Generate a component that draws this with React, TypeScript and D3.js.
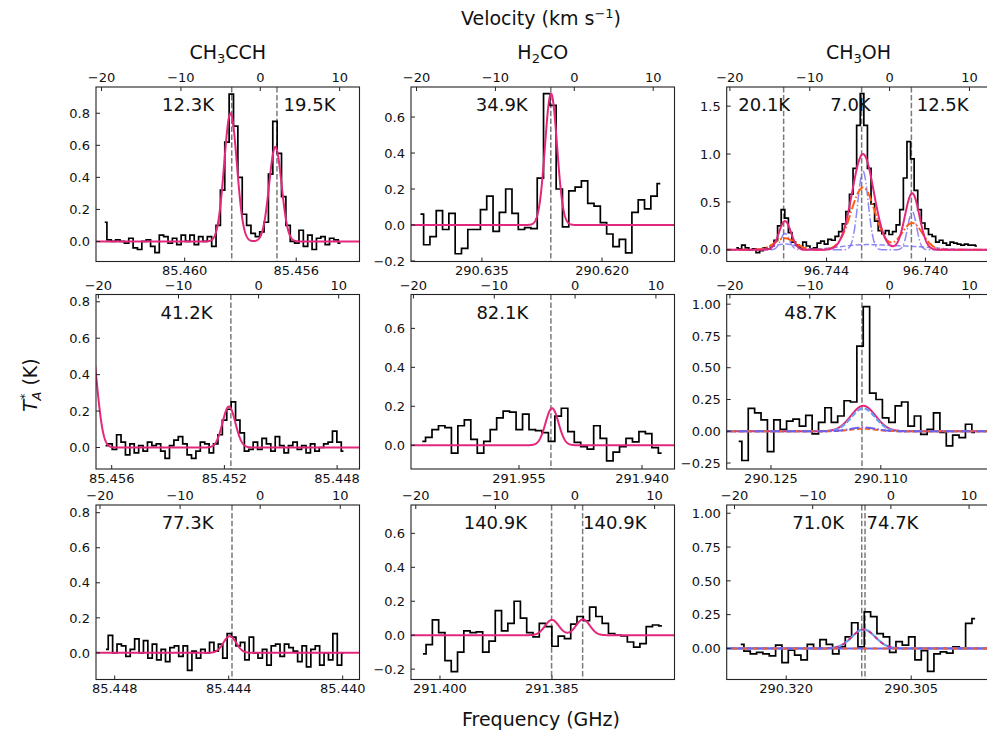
import React from "react";
import * as d3 from "d3";

// ---------------- DATA ----------------
// Observed spectra (T_A*, K) per channel; grids are [first channel velocity, channel width] in km/s
const ch3cchRow1 = [0.12,0.01,0.00,0.01,0.00,-0.01,0.02,-0.04,-0.05,0.00,0.01,-0.03,-0.07,0.04,0.03,-0.01,0.02,-0.02,0.04,0.00,0.04,-0.02,0.03,0.00,0.03,-0.03,0.10,0.32,0.62,0.92,0.72,0.40,0.17,0.10,0.05,0.03,0.06,0.12,0.42,0.75,0.55,0.28,0.10,0.00,-0.01,0.07,-0.03,0.04,-0.05,0.02,0.03,-0.02,0.02,0.01,-0.01];
const ch3cchRow1Grid = [-19.6, 0.55];
const ch3cchRow2 = [0.01,0.02,-0.01,0.07,0.03,-0.04,0.02,-0.03,0.01,-0.02,0.03,0.01,0.02,-0.02,-0.06,0.01,0.04,0.06,0.02,-0.04,-0.06,-0.02,0.03,0.02,-0.03,0.02,0.07,0.15,0.21,0.25,0.15,0.08,-0.02,-0.01,0.03,-0.01,0.05,0.02,-0.02,0.06,0.01,-0.03,0.01,0.03,-0.01,0.01,-0.03,0.02,-0.02,0.00,0.02,0.03,0.09,0.03,-0.02];
const ch3cchRow2Grid = [-19.1, 0.55];
const ch3cchRow3 = [0.02,0.10,0.00,0.05,0.04,-0.02,0.02,0.08,0.00,0.07,-0.03,0.05,-0.04,0.02,-0.05,0.03,0.04,-0.02,0.04,-0.10,0.01,-0.03,0.02,0.00,0.06,0.01,0.05,-0.03,0.11,0.09,0.04,0.06,-0.04,0.09,0.00,-0.03,0.02,-0.07,0.04,0.05,-0.02,0.05,0.03,0.01,-0.05,0.04,-0.08,0.02,0.04,-0.07,0.00,-0.04,0.11,-0.07,0.00];
const ch3cchRow3Grid = [-19.25, 0.55];

const h2coRow1 = [0.06,-0.11,-0.065,0.08,-0.025,0.065,-0.16,-0.13,-0.025,-0.025,0.085,0.16,-0.035,0.07,0.20,0.065,-0.025,-0.015,-0.02,0.26,0.73,0.665,0.20,-0.01,0.19,0.21,0.245,0.12,0.105,0.013,-0.05,-0.12,-0.08,-0.155,0.07,0.14,0.09,0.16,0.23];
const h2coRow1Grid = [-19.5, 0.8];
const h2coRow2 = [0.02,0.04,0.08,0.10,0.09,-0.04,0.10,0.13,0.03,-0.04,0.02,0.08,0.14,0.175,0.17,0.08,0.16,0.08,0.075,0.065,0.02,0.15,0.19,0.07,0.015,-0.007,-0.02,0.10,0.035,-0.08,-0.035,-0.007,0.035,0.017,0.07,0.06,-0.012,-0.04];
const h2coRow2Grid = [-18.9, 0.8];
const h2coRow3 = [-0.11,-0.055,0.09,0.015,-0.15,-0.215,-0.10,0.025,0.015,0.02,-0.10,-0.035,0.145,0.025,0.07,0.20,0.10,0.015,-0.01,0.07,0.05,-0.065,-0.005,-0.02,0.065,0.11,0.085,0.165,0.11,0.07,0.01,0.0,-0.004,-0.04,-0.07,-0.05,0.05,0.06,0.055];
const h2coRow3Grid = [-19.1, 0.79];

const ch3ohRow1 = [0.02,0.01,0.05,0.02,0.00,0.01,-0.03,-0.01,0.02,0.01,0.04,0.10,0.25,0.42,0.33,0.18,0.08,0.05,0.02,0.08,0.04,0.01,0.02,0.07,0.09,0.06,0.11,0.10,0.14,0.19,0.27,0.40,0.58,0.85,1.30,1.63,1.30,0.85,0.48,0.30,0.20,0.17,0.20,0.16,0.19,0.26,0.42,0.75,1.13,0.95,0.62,0.42,0.28,0.22,0.16,0.14,0.08,0.10,0.07,0.05,0.08,0.07,0.06,0.05,0.06,0.05,0.05,0.04];
const ch3ohRow1Grid = [-19.2, 0.45];
const ch3ohRow2 = [-0.08,-0.23,0.18,0.145,0.09,-0.16,0.09,0.015,0.08,0.095,0.04,0.125,-0.02,0.07,0.185,0.07,0.12,0.24,0.23,0.67,0.98,0.30,0.25,0.105,0.07,0.20,0.23,0.04,0.12,-0.025,0.015,0.145,-0.01,-0.115,-0.03,-0.05,0.055,-0.01];
const ch3ohRow2Grid = [-18.9, 0.8];
const ch3ohRow3 = [0.03,-0.02,-0.04,-0.03,-0.04,-0.055,0.025,-0.105,-0.012,-0.05,-0.085,0.03,0.0,0.065,0.03,-0.04,0.012,0.085,0.19,0.012,0.27,0.235,0.11,0.085,-0.03,0.05,0.025,0.085,-0.085,-0.017,-0.17,-0.04,-0.025,-0.035,0.012,0.0,0.185,0.22];
const ch3ohRow3Grid = [-19.2, 0.81];

// Fitted line components: [centre velocity, peak T_A*, sigma] (km/s, K, km/s)
const ch3cchRow1Fit = [[-3.75, 0.80, 0.8], [1.9, 0.59, 0.78]];
const ch3cchRow2Fit = [[-21.0, 0.59, 0.8], [-3.7, 0.225, 0.8]];
const ch3cchRow3Fit = [[-3.8, 0.095, 0.8]];
const h2coRow1Fit = [[-2.95, 0.73, 0.76]];
const h2coRow2Fit = [[-2.85, 0.19, 0.8]];
const h2coRow3Fit = [[-2.9, 0.09, 0.87], [1.0, 0.093, 0.87]];
const ch3ohRow1Total = [[-13.1, 0.30, 0.75], [-3.33, 1.0, 1.35], [2.83, 0.59, 0.9]];
const ch3ohRow1Broad = [[-13.1, 0.12, 1.3], [-3.33, 0.65, 1.5], [2.83, 0.28, 1.3]];
const ch3ohRow1Narrow = [[-13.1, 0.17, 0.55], [-3.33, 0.82, 0.65], [2.83, 0.40, 0.55]];
const ch3ohRow1Wide = [[-13.1, 0.06, 1.5], [-3.33, 0.05, 3.0], [2.83, 0.03, 3.0]];
const ch3ohRow2Total = [[-3.3, 0.20, 1.55]];
const ch3ohRow2Comp = [[-3.3, 0.18, 1.5]];
const ch3ohRow2Weak = [[-3.3, 0.03, 1.6]];
const ch3ohRow2Broad = [[-3.3, 0.02, 1.6]];
const ch3ohRow3Total = [[-3.5, 0.14, 1.5]];
const ch3ohRow3Comp = [[-3.5, 0.14, 1.5]];
const ch3ohRow3Weak = [[-3.5, 0.0, 1.5]];
const ch3ohRow3Broad = [[-3.5, 0.0, 1.5]];

// Marked line velocities (km/s) and excitation-temperature labels
const ch3cchRow1Lines = [-3.6, 2.1];
const ch3cchRow2Lines = [-3.46];
const ch3cchRow3Lines = [-3.52];
const h2coRow1Lines = [-2.98];
const h2coRow2Lines = [-2.99];
const h2coRow3Lines = [-2.94, 0.96];
const ch3ohRow1Lines = [-13.27, -3.5, 2.73];
const ch3ohRow2Lines = [-3.46];
const ch3ohRow3Lines = [-3.73, -3.31];

const ch3cchRow1Labels = ["12.3K", "19.5K"];
const ch3cchRow2Labels = ["41.2K"];
const ch3cchRow3Labels = ["77.3K"];
const h2coRow1Labels = ["34.9K"];
const h2coRow2Labels = ["82.1K"];
const h2coRow3Labels = ["140.9K", "140.9K"];
const ch3ohRow1Labels = ["20.1K", "7.0K", "12.5K"];
const ch3ohRow2Labels = ["48.7K"];
const ch3ohRow3Labels = ["71.0K", "74.7K"];

// Tick values
const velocityTicks = [-20, -10, 0, 10];
const ch3cchRow1FreqTicks = [85.460, 85.456];
const ch3cchRow2FreqTicks = [85.456, 85.452, 85.448];
const ch3cchRow3FreqTicks = [85.448, 85.444, 85.440];
const h2coRow1FreqTicks = [290.635, 290.620];
const h2coRow2FreqTicks = [291.955, 291.940];
const h2coRow3FreqTicks = [291.400, 291.385];
const ch3ohRow1FreqTicks = [96.744, 96.740];
const ch3ohRow2FreqTicks = [290.125, 290.110];
const ch3ohRow3FreqTicks = [290.320, 290.305];
const ticks0to08 = [0, 0.2, 0.4, 0.6, 0.8];
const ticksM02to06 = [-0.2, 0, 0.2, 0.4, 0.6];
const ticks0to06 = [0, 0.2, 0.4, 0.6];
const ticks0to15 = [0, 0.5, 1.0, 1.5];
const ticksM025to1 = [-0.25, 0, 0.25, 0.5, 0.75, 1.0];
const ticks0to1 = [0, 0.25, 0.5, 0.75, 1.0];

// ---------------- LAYOUT / STYLE ----------------
const W = 987, H = 735;
const colLeft = [96, 411, 726.7];
const rowTop = [87, 294.5, 505];
const PW = 263.5, PH = 174.5;
const FONT = "DejaVu Sans, Verdana, sans-serif";
const PINK = "#e3287c";
const ORANGE = "#ff5e14";
const PURPLE = "#6a62f2";
const LIGHTBLUE = "#6a9ef0";

type Model = { comps: number[][]; color: string; width: number; dash?: string; opacity?: number };
type PanelCfg = {
  row: number; col: number; spec: number[]; grid: number[];
  vDom: number[]; fDom: number[]; yDom: number[]; yTicks: number[]; yFmt: string;
  fTicks: number[]; models: Model[]; lines: number[]; labels: string[]; labelV: number[];
};

const DASHDOT = "9.6,2.4,1.5,2.4";

const panels: PanelCfg[] = [
  { row: 0, col: 0, spec: ch3cchRow1, grid: ch3cchRow1Grid, vDom: [-20.7, 12.5], fDom: [85.46318, 85.45373], yDom: [-0.125, 0.964], yTicks: ticks0to08, yFmt: ".1f", fTicks: ch3cchRow1FreqTicks,
    models: [{ comps: ch3cchRow1Fit, color: PINK, width: 2 }], lines: ch3cchRow1Lines, labels: ch3cchRow1Labels, labelV: [-9.1, 6.2] },
  { row: 0, col: 1, spec: h2coRow1, grid: h2coRow1Grid, vDom: [-20.7, 12.7], fDom: [290.64386, 290.61095], yDom: [-0.203, 0.767], yTicks: ticksM02to06, yFmt: ".1f", fTicks: h2coRow1FreqTicks,
    models: [{ comps: h2coRow1Fit, color: PINK, width: 2 }], lines: h2coRow1Lines, labels: h2coRow1Labels, labelV: [-9.2] },
  { row: 0, col: 2, spec: ch3ohRow1, grid: ch3ohRow1Grid, vDom: [-20.4, 12.6], fDom: [96.74804, 96.73738], yDom: [-0.122, 1.70], yTicks: ticks0to15, yFmt: ".1f", fTicks: ch3ohRow1FreqTicks,
    models: [
      { comps: ch3ohRow1Wide, color: PURPLE, width: 1.5, dash: "5.5,2.4", opacity: 0.75 },
      { comps: ch3ohRow1Narrow, color: PURPLE, width: 1.5, dash: DASHDOT, opacity: 0.75 },
      { comps: ch3ohRow1Broad, color: ORANGE, width: 2, dash: DASHDOT },
      { comps: ch3ohRow1Total, color: PINK, width: 2 },
    ], lines: ch3ohRow1Lines, labels: ch3ohRow1Labels, labelV: [-15.7, -4.9, 6.65] },
  { row: 1, col: 0, spec: ch3cchRow2, grid: ch3cchRow2Grid, vDom: [-20.3, 12.6], fDom: [85.456557, 85.447205], yDom: [-0.118, 0.84], yTicks: ticks0to08, yFmt: ".1f", fTicks: ch3cchRow2FreqTicks,
    models: [{ comps: ch3cchRow2Fit, color: PINK, width: 2 }], lines: ch3cchRow2Lines, labels: ch3cchRow2Labels, labelV: [-9.0] },
  { row: 1, col: 1, spec: h2coRow2, grid: h2coRow2Grid, vDom: [-20.3, 12.3], fDom: [291.96817, 291.93604], yDom: [-0.122, 0.774], yTicks: ticks0to06, yFmt: ".1f", fTicks: h2coRow2FreqTicks,
    models: [{ comps: h2coRow2Fit, color: PINK, width: 2 }], lines: h2coRow2Lines, labels: h2coRow2Labels, labelV: [-9.0] },
  { row: 1, col: 2, spec: ch3ohRow2, grid: ch3ohRow2Grid, vDom: [-20.4, 12.6], fDom: [290.13105, 290.09506], yDom: [-0.297, 1.076], yTicks: ticksM025to1, yFmt: ".2f", fTicks: ch3ohRow2FreqTicks,
    models: [
      { comps: ch3ohRow2Total, color: PINK, width: 2 },
      { comps: ch3ohRow2Comp, color: LIGHTBLUE, width: 2.2, dash: "5.5,2.4" },
      { comps: ch3ohRow2Broad, color: ORANGE, width: 2, dash: "5.5,2.4" },
      { comps: ch3ohRow2Weak, color: PURPLE, width: 2, dash: DASHDOT },
    ], lines: ch3ohRow2Lines, labels: ch3ohRow2Labels, labelV: [-9.95] },
  { row: 2, col: 0, spec: ch3cchRow3, grid: ch3cchRow3Grid, vDom: [-20.5, 12.4], fDom: [85.448656, 85.439411], yDom: [-0.152, 0.844], yTicks: ticks0to08, yFmt: ".1f", fTicks: ch3cchRow3FreqTicks,
    models: [{ comps: ch3cchRow3Fit, color: PINK, width: 2 }], lines: ch3cchRow3Lines, labels: ch3cchRow3Labels, labelV: [-9.06] },
  { row: 2, col: 1, spec: h2coRow3, grid: h2coRow3Grid, vDom: [-20.6, 12.5], fDom: [291.40388, 291.36859], yDom: [-0.261, 0.767], yTicks: ticksM02to06, yFmt: ".1f", fTicks: h2coRow3FreqTicks,
    models: [{ comps: h2coRow3Fit, color: PINK, width: 2 }], lines: h2coRow3Lines, labels: h2coRow3Labels, labelV: [-10.0, 5.0] },
  { row: 2, col: 2, spec: ch3ohRow3, grid: ch3ohRow3Grid, vDom: [-21.0, 12.7], fDom: [290.32714, 290.29552], yDom: [-0.23, 1.061], yTicks: ticks0to1, yFmt: ".2f", fTicks: ch3ohRow3FreqTicks,
    models: [
      { comps: ch3ohRow3Comp, color: LIGHTBLUE, width: 2.2 },
      { comps: ch3ohRow3Total, color: PINK, width: 1.8, dash: "4,4" },
      { comps: ch3ohRow3Weak, color: PURPLE, width: 2 },
      { comps: ch3ohRow3Broad, color: ORANGE, width: 2, dash: "4,6" },
    ], lines: ch3ohRow3Lines, labels: ch3ohRow3Labels, labelV: [-9.3, 0.2] },
];

function modelValue(comps: number[][], v: number) {
  let s = 0;
  for (const [c, a, sg] of comps) s += a * Math.exp(-((v - c) * (v - c)) / (2 * sg * sg));
  return s;
}

function Panel({ p, idx }: { p: PanelCfg; idx: number }) {
  const x0 = colLeft[p.col], y0 = rowTop[p.row];
  const xV = d3.scaleLinear().domain(p.vDom).range([x0, x0 + PW]);
  const xF = d3.scaleLinear().domain(p.fDom).range([x0, x0 + PW]);
  const y = d3.scaleLinear().domain(p.yDom).range([y0 + PH, y0]);
  const clipId = `clip-${idx}`;
  const [v0, dv] = p.grid;
  const specLine = d3.line<number>().x((_, i) => xV(v0 + i * dv)).y((d) => y(d)).curve(d3.curveStep);
  const vs = d3.range(p.vDom[0] - 0.5, p.vDom[1] + 0.5, 0.04);
  const fmtY = d3.format(p.yFmt);
  const fmtF = d3.format(".3f");
  const fmtV = d3.format("d");
  const tl = 4;
  return (
    <g>
      <defs>
        <clipPath id={clipId}>
          <rect x={x0} y={y0} width={PW} height={PH} />
        </clipPath>
      </defs>
      <g clipPath={`url(#${clipId})`}>
        {p.lines.map((v, i) => (
          <line key={"vl" + i} x1={xV(v)} x2={xV(v)} y1={y0} y2={y0 + PH} stroke="#7a7a7a" strokeWidth={1.5} strokeDasharray="5.5,2.4" />
        ))}
        <path d={specLine(p.spec) || ""} fill="none" stroke="#000" strokeWidth={1.7} />
        {p.models.map((m, i) => {
          const ln = d3.line<number>().x((v) => xV(v)).y((v) => y(modelValue(m.comps, v)));
          return (
            <path key={"m" + i} d={ln(vs) || ""} fill="none" stroke={m.color} strokeWidth={m.width}
              strokeDasharray={m.dash} opacity={m.opacity ?? 1} />
          );
        })}
      </g>
      <rect x={x0} y={y0} width={PW} height={PH} fill="none" stroke="#222" strokeWidth={1.1} />
      {/* y ticks */}
      {p.yTicks.map((t) => (
        <g key={"y" + t}>
          <line x1={x0} x2={x0 + tl} y1={y(t)} y2={y(t)} stroke="#222" strokeWidth={1} />
          <text x={x0 - 6} y={y(t)} dy="0.36em" textAnchor="end" fontSize={13} fontFamily={FONT} fill="#111">{fmtY(t)}</text>
        </g>
      ))}
      {/* top velocity ticks */}
      {velocityTicks.map((t) => (
        <g key={"v" + t}>
          <line x1={xV(t)} x2={xV(t)} y1={y0} y2={y0 + tl} stroke="#222" strokeWidth={1} />
          <text x={xV(t)} y={y0 - 5} textAnchor="middle" fontSize={13} fontFamily={FONT} fill="#111">{fmtV(t)}</text>
        </g>
      ))}
      {/* bottom frequency ticks */}
      {p.fTicks.map((t) => (
        <g key={"f" + t}>
          <line x1={xF(t)} x2={xF(t)} y1={y0 + PH} y2={y0 + PH - tl} stroke="#222" strokeWidth={1} />
          <text x={xF(t)} y={y0 + PH + 13.5} textAnchor="middle" fontSize={13} fontFamily={FONT} fill="#111">{fmtF(t)}</text>
        </g>
      ))}
      {p.labels.map((s, i) => (
        <text key={"lab" + i} x={xV(p.labelV[i])} y={y0 + 24} textAnchor="middle" fontSize={18} fontFamily={FONT} fill="#111">{s}</text>
      ))}
    </g>
  );
}

export default function App() {
  const colCenters = colLeft.map((l) => l + PW / 2);
  const sub = { fontSize: 13 };
  return (
    <svg width={W} height={H} style={{ position: "absolute", left: 0, top: 0, background: "#fff" }}>
      <rect x={0} y={0} width={W} height={H} fill="#fff" />
      {panels.map((p, i) => (
        <Panel key={i} p={p} idx={i} />
      ))}
      {/* column titles */}
      <text x={colCenters[0]} y={59} textAnchor="middle" fontSize={19} fontFamily={FONT} fill="#111">
        CH<tspan dy={4} {...sub}>3</tspan><tspan dy={-4}>CCH</tspan>
      </text>
      <text x={colCenters[1]} y={59} textAnchor="middle" fontSize={19} fontFamily={FONT} fill="#111">
        H<tspan dy={4} {...sub}>2</tspan><tspan dy={-4}>CO</tspan>
      </text>
      <text x={colCenters[2]} y={59} textAnchor="middle" fontSize={19} fontFamily={FONT} fill="#111">
        CH<tspan dy={4} {...sub}>3</tspan><tspan dy={-4}>OH</tspan>
      </text>
      {/* figure titles */}
      <text x={541} y={25} textAnchor="middle" fontSize={19} fontFamily={FONT} fill="#111">
        Velocity (km s<tspan dy={-7} fontSize={13}>−1</tspan><tspan dy={7}>)</tspan>
      </text>
      <text x={541} y={726} textAnchor="middle" fontSize={19} fontFamily={FONT} fill="#111">Frequency (GHz)</text>
      <text transform="translate(37,385) rotate(-90)" textAnchor="middle" fontSize={19} fontFamily={FONT} fill="#111">
        <tspan fontStyle="italic">T</tspan><tspan dy={-8} fontSize={13}>*</tspan><tspan dx={-7} dy={12} fontSize={13} fontStyle="italic">A</tspan><tspan dy={-4}> (K)</tspan>
      </text>
    </svg>
  );
}
